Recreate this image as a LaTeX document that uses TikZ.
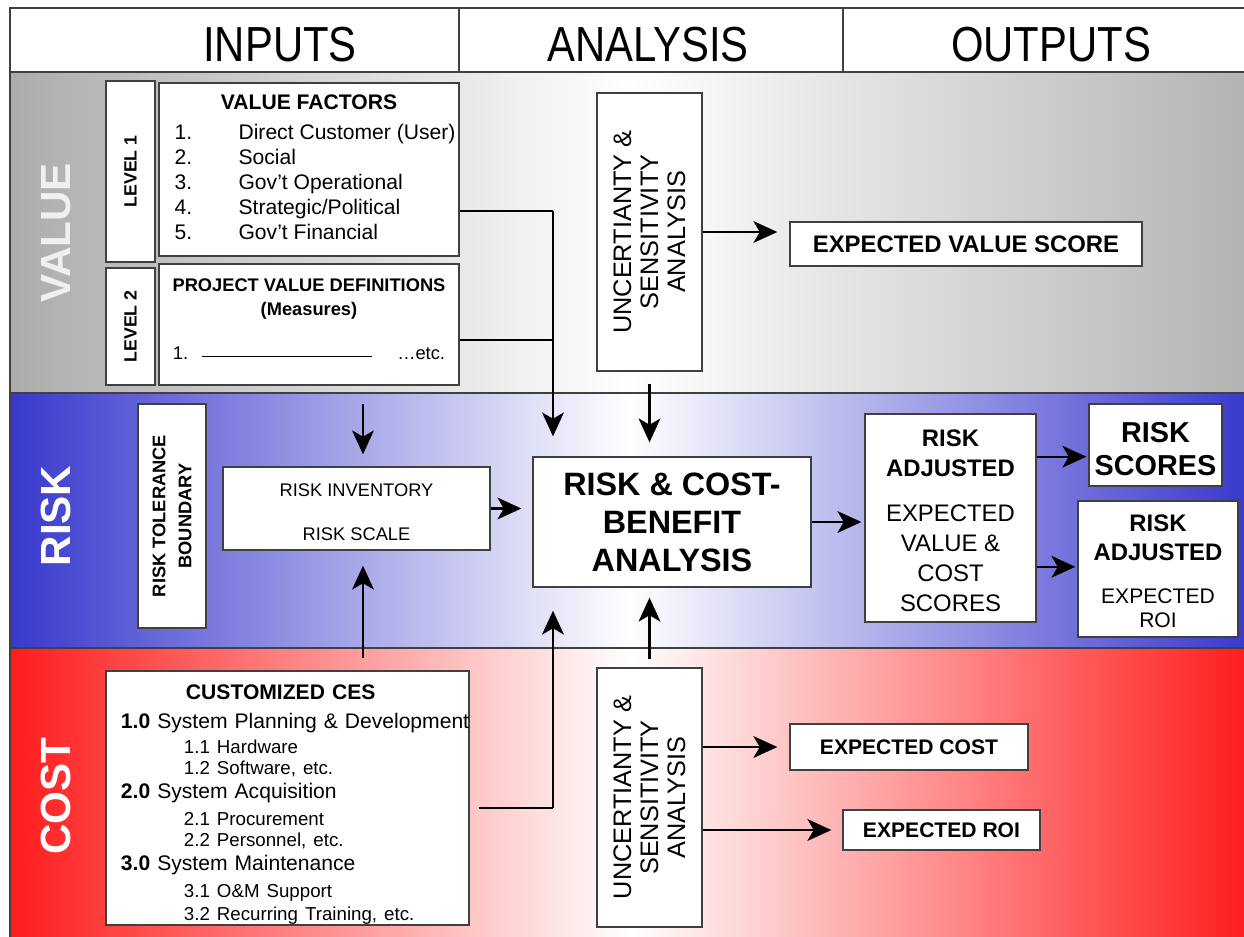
\documentclass[tikz,border=0pt]{standalone}
\usepackage{fontspec}
\setmainfont{Liberation Sans}
\usetikzlibrary{arrows.meta,calc}
\definecolor{riskblue}{RGB}{56,56,204}
\definecolor{costred}{RGB}{255,28,28}
\newcommand{\cessub}[1]{\hspace*{1.575cm}{\fontsize{13.3}{15}\selectfont #1}}

\begin{document}
\begin{tikzpicture}[x=0.025cm,y=-0.025cm,
	box/.style={rectangle,draw=black!75,line width=0.9pt,fill=white,inner sep=0pt,align=center},
	flow/.style={line width=1.6pt,-{Stealth[length=17pt,width=15.5pt,inset=4.5pt]}},
	feed/.style={line width=1.1pt},
	band/.style={draw=black!75,line width=1.5pt},
	bandlabel/.style={rotate=90,text=white,font=\fontsize{30}{30}\selectfont\bfseries},
	head/.style={font=\fontsize{35}{35}\selectfont}]
	\useasboundingbox (0,0) rectangle (1244,936);

	% bands
	\fill[white] (10,8) rectangle (1250,72);
	\shade[left color=gray!65,right color=gray!60,middle color=white] (10,72) rectangle (1250,393);
	\shade[left color=riskblue,right color=riskblue,middle color=white] (10,393) rectangle (1250,648);
	\shade[left color=costred,right color=costred,middle color=white] (10,648) rectangle (1250,940);
	\draw[band] (10,940) -- (10,8) -- (1250,8);
	\draw[band] (10,72) -- (1250,72);
	\draw[band] (10,393) -- (1250,393);
	\draw[band] (10,648) -- (1250,648);
	\draw[band] (459,8) -- (459,72);
	\draw[band] (843,8) -- (843,72);

	\node[head] (inputs) at (280,45) {\scalebox{0.85}[1]{INPUTS}};
	\node[head] (analysis) at (648,45) {\scalebox{0.85}[1]{ANALYSIS}};
	\node[head] (outputs) at (1051,45) {\scalebox{0.85}[1]{OUTPUTS}};

	\node[bandlabel,text=gray!12] (valuelab) at (56,233) {VALUE};
	\node[bandlabel] (risklab) at (56,516) {RISK};
	\node[bandlabel] (costlab) at (56,796) {COST};

	% value inputs
	\node[box,rotate=90,minimum width=4.525cm,minimum height=1.225cm,font=\fontsize{12.6}{14}\selectfont\bfseries] (lvlone) at (130.5,171.5) {LEVEL 1};
	\node[box,rotate=90,minimum width=2.925cm,minimum height=1.225cm,font=\fontsize{12.6}{14}\selectfont\bfseries] (lvltwo) at (130.5,326.5) {LEVEL 2};
	\node[box,minimum width=7.5cm,minimum height=4.325cm] (vf) at (309,169.5) {\fontsize{15}{17.8}\selectfont
		\begin{tabular}{@{\hspace{0.3cm}}p{1.6cm}@{}l@{}}
		\multicolumn{2}{c}{\bfseries VALUE FACTORS}\\[3.5pt]
		1. & Direct Customer (User)\\
		2. & Social\\
		3. & Gov't Operational\\
		4. & Strategic/Political\\
		5. & Gov't Financial
		\end{tabular}};
	\node[box,minimum width=7.5cm,minimum height=3.025cm,font=\fontsize{13}{17}\selectfont] (pv) at (309,324.5) {\textbf{PROJECT VALUE DEFINITIONS}\\\textbf{(Measures)}\\[14.3pt]\makebox[6.8cm][l]{1.\hspace{0.35cm}\rule[0.3ex]{4.25cm}{0.7pt}\hfill …etc.}\rule[-0.25cm]{0pt}{0pt}};

	% uncertainty, value side
	\node[box,rotate=90,minimum width=6.95cm,minimum height=2.625cm,font=\fontsize{18}{19.2}\selectfont] (uncv) at (649.5,232) {UNCERTIANTY \&\\SENSITIVITY\\ANALYSIS};
	\node[box,minimum width=8.8cm,minimum height=1.1cm,font=\fontsize{17}{17}\selectfont\bfseries] (evs) at (966,244) {EXPECTED VALUE SCORE};

	% risk
	\node[box,rotate=90,minimum width=5.6cm,minimum height=1.7cm,font=\fontsize{13}{18.5}\selectfont\bfseries] (rtb) at (172,516) {RISK TOLERANCE\\BOUNDARY};
	\node[box,minimum width=6.675cm,minimum height=2.075cm,font=\fontsize{13}{13}\selectfont] (rinv) at (356.5,508.5) {\rule{0pt}{14pt}RISK INVENTORY\\[18.3pt]RISK SCALE};
	\node[box,minimum width=6.95cm,minimum height=3.25cm,font=\fontsize{23}{27}\selectfont\bfseries] (rcb) at (672,522) {RISK \& COST-\\BENEFIT\\ANALYSIS};
	\node[box,minimum width=4.275cm,minimum height=5.2cm,font=\fontsize{17}{21.3}\selectfont] (radj) at (950.5,518) {\rule{0pt}{16pt}\textbf{RISK}\\\textbf{ADJUSTED}\\[10.7pt]EXPECTED\\VALUE \&\\COST\\SCORES};
	\node[box,minimum width=3.325cm,minimum height=2.05cm,font=\fontsize{20.5}{23.5}\selectfont\bfseries] (rsc) at (1155.5,445) {\rule{0pt}{20pt}RISK\\SCORES};
	\node[box,minimum width=4cm,minimum height=3.4cm,font=\fontsize{17}{17}\selectfont] (rroi) at (1158,569) {\rule{0pt}{15pt}\textbf{RISK}\\[4.3pt]\textbf{ADJUSTED}\\[13.6pt]{\fontsize{15}{17}\selectfont EXPECTED}\\{\fontsize{15}{17}\selectfont ROI}};

	% cost
	\node[box,minimum width=9.075cm,minimum height=6.35cm,text width=8.325cm,inner xsep=0.375cm,align=left,font=\fontsize{15}{15}\selectfont] (ces) at (287.5,798) {\parindent=0pt
		\rule{0pt}{20pt}\hspace*{1.625cm}\textbf{CUSTOMIZED CES}\\[5.6pt]
		\makebox[8.325cm][l]{\textbf{1.0} System Planning \& Development}\\[2.8pt]
		\cessub{1.1 Hardware}\\
		\cessub{1.2 Software, etc.}\\[2pt]
		\textbf{2.0} System Acquisition\\[4.2pt]
		\cessub{2.1 Procurement}\\
		\cessub{2.2 Personnel, etc.}\\[2pt]
		\textbf{3.0} System Maintenance\\[4.2pt]
		\cessub{3.1 O\&M Support}\\[1.4pt]
		\cessub{3.2 Recurring Training, etc.}};
	\node[box,rotate=90,minimum width=6.475cm,minimum height=2.625cm,font=\fontsize{18}{19.2}\selectfont] (uncc) at (649.5,797.5) {UNCERTIANTY \&\\SENSITIVITY\\ANALYSIS};
	\node[box,minimum width=5.95cm,minimum height=1.15cm,font=\fontsize{15}{15}\selectfont\bfseries] (ecost) at (909,747) {EXPECTED COST};
	\node[box,minimum width=4.925cm,minimum height=1cm,font=\fontsize{15}{15}\selectfont\bfseries] (eroi) at (941.5,830) {EXPECTED ROI};

	% connectors
	\coordinate (vfjoin) at (553,211);
	\coordinate (pvjoin) at (553,340);
	\coordinate (cesjoin) at (553,808);
	\coordinate (cesout) at ([xshift=0.225cm]ces.east);
	\coordinate (rtop) at (363,404);
	\coordinate (raup) at ($(radj.north east)!0.207!(radj.south east)$);
	\coordinate (radown) at ($(radj.north east)!0.733!(radj.south east)$);

	\draw[feed] (vf.east |- vfjoin) -- (vfjoin);
	\draw[feed] (pv.east |- pvjoin) -- (pvjoin);
	\draw[flow,shorten >=0.5cm] (vfjoin) -- (vfjoin |- rcb.north);
	\draw[feed] (cesout |- cesjoin) -- (cesjoin);
	\draw[flow,shorten >=0.575cm] (cesjoin) -- (cesjoin |- rcb.south);

	\draw[flow,shorten <=0.3cm,shorten >=0.35cm] (uncv.west) -- (uncv.west |- rcb.north);
	\draw[flow,shorten >=0.3cm] (uncv.south) -- (uncv.south -| evs.west);
	\draw[flow,shorten <=0.2cm,shorten >=0.25cm] (uncc.east) -- (uncc.east |- rcb.south);
	\draw[flow,shorten >=0.3cm] (uncc.south |- ecost) -- (ecost.west);
	\draw[flow,shorten >=0.275cm] (uncc.south |- eroi) -- (eroi.west);

	\draw[flow,shorten >=0.3cm] (rtop) -- (rtop |- rinv.north);
	\draw[flow,shorten <=0.3cm,shorten >=0.375cm] (ces.north -| rtop) -- (rtop |- rinv.south);
	\draw[flow,shorten >=0.275cm] (rinv.east) -- (rinv.east -| rcb.west);
	\draw[flow,shorten >=0.075cm] (rcb.east) -- (rcb.east -| radj.west);
	\draw[flow,shorten >=0.05cm] (raup) -- (raup -| rsc.west);
	\draw[flow,shorten >=0.05cm] (radown) -- (radown -| rroi.west);
\end{tikzpicture}
\end{document}
